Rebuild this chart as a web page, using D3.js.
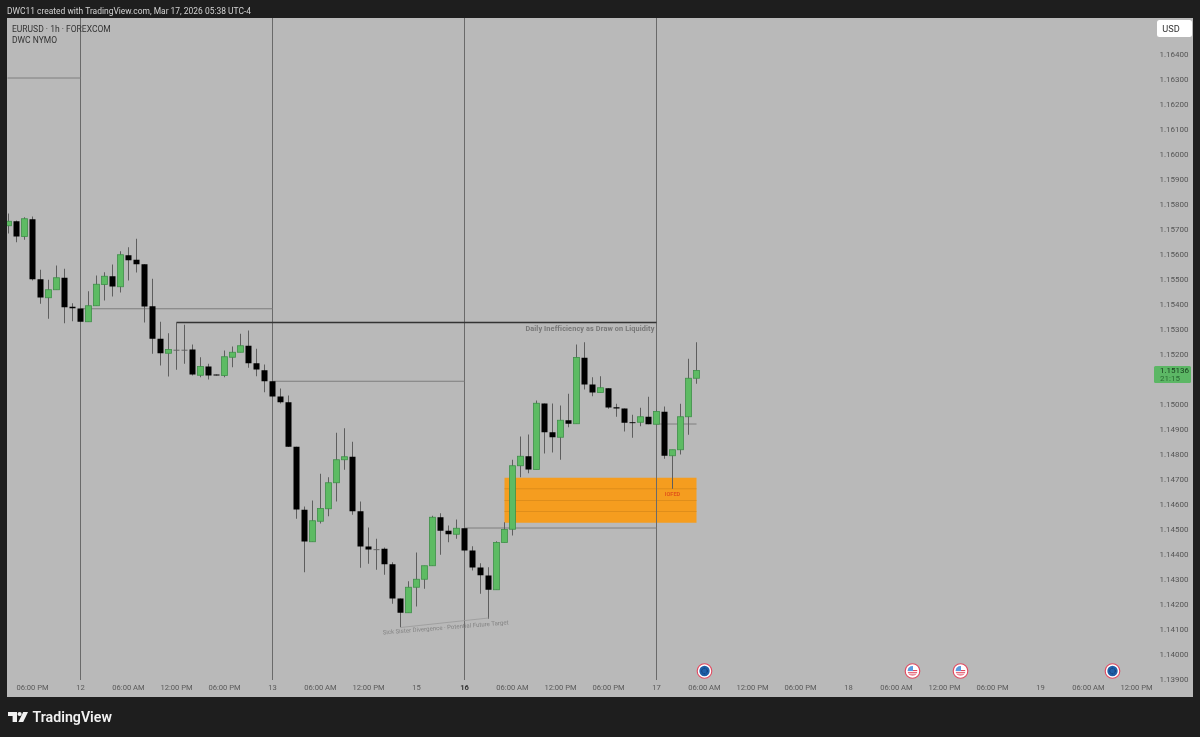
<!DOCTYPE html>
<html><head><meta charset="utf-8">
<script src="https://cdn.jsdelivr.net/npm/d3@7/dist/d3.min.js"></script>
<style>
html,body{margin:0;padding:0;background:#1e1e1e;overflow:hidden}
svg{display:block;filter:blur(0.3px)}
text{font-family:Roboto,"Liberation Sans",sans-serif}
</style></head><body><svg id="c" width="1200" height="737"></svg>
<script>
const opens=[1.15715,1.15733,1.15672,1.15741,1.15501,1.15427,1.15459,1.15507,1.15391,1.15384,1.15331,1.15395,1.15480,1.15513,1.15471,1.15597,1.15579,1.15561,1.15393,1.15263,1.15205,1.15219,1.15219,1.15220,1.15117,1.15152,1.15120,1.15116,1.15189,1.15209,1.15235,1.15165,1.15137,1.15093,1.15032,1.15009,1.14831,1.14579,1.14451,1.14533,1.14583,1.14687,1.14779,1.14791,1.14573,1.14432,1.14421,1.14423,1.14361,1.14224,1.14167,1.14269,1.14301,1.14355,1.14549,1.14495,1.14481,1.14505,1.14416,1.14348,1.14316,1.14259,1.14448,1.14501,1.14755,1.14793,1.14740,1.15004,1.14889,1.14869,1.14937,1.14923,1.15187,1.15080,1.15048,1.15065,1.14989,1.14984,1.14929,1.14929,1.14951,1.14921,1.14971,1.14795,1.14819,1.14951,1.15105];
const highs=[1.15764,1.15736,1.15749,1.15752,1.15539,1.15499,1.15556,1.15543,1.15405,1.15384,1.15453,1.15516,1.15529,1.15560,1.15613,1.15629,1.15663,1.15561,1.15503,1.15331,1.15285,1.15329,1.15319,1.15240,1.15189,1.15163,1.15120,1.15216,1.15232,1.15283,1.15296,1.15223,1.15160,1.15093,1.15064,1.15036,1.14831,1.14592,1.14616,1.14723,1.14709,1.14887,1.14905,1.14851,1.14612,1.14508,1.14463,1.14428,1.14369,1.14224,1.14293,1.14408,1.14355,1.14555,1.14565,1.14516,1.14540,1.14505,1.14433,1.14365,1.14349,1.14453,1.14529,1.14779,1.14872,1.14880,1.15016,1.15004,1.15004,1.14996,1.15043,1.15240,1.15249,1.15109,1.15113,1.15065,1.15003,1.14984,1.14959,1.14987,1.15031,1.14979,1.14992,1.14819,1.15003,1.15183,1.15249];
const lows=[1.15684,1.15649,1.15659,1.15496,1.15403,1.15343,1.15459,1.15325,1.15333,1.15331,1.15331,1.15395,1.15416,1.15432,1.15448,1.15496,1.15528,1.15328,1.15203,1.15156,1.15112,1.15139,1.15163,1.15116,1.15109,1.15100,1.15116,1.15109,1.15149,1.15209,1.15147,1.15113,1.15049,1.15028,1.15004,1.14830,1.14543,1.14329,1.14451,1.14524,1.14553,1.14612,1.14739,1.14559,1.14347,1.14363,1.14339,1.14319,1.14203,1.14109,1.14167,1.14192,1.14263,1.14355,1.14399,1.14449,1.14463,1.14408,1.14336,1.14243,1.14143,1.14259,1.14448,1.14476,1.14709,1.14725,1.14740,1.14804,1.14808,1.14779,1.14909,1.14923,1.15060,1.15033,1.15048,1.14983,1.14951,1.14892,1.14867,1.14913,1.14921,1.14921,1.14783,1.14663,1.14800,1.14879,1.15083];
const closes=[1.15733,1.15672,1.15743,1.15501,1.15428,1.15459,1.15507,1.15389,1.15385,1.15331,1.15395,1.15481,1.15513,1.15472,1.15599,1.15577,1.15561,1.15392,1.15263,1.15205,1.15220,1.15219,1.15219,1.15120,1.15152,1.15116,1.15116,1.15191,1.15209,1.15235,1.15165,1.15140,1.15093,1.15032,1.15009,1.14831,1.14580,1.14452,1.14535,1.14584,1.14687,1.14779,1.14791,1.14573,1.14432,1.14420,1.14421,1.14361,1.14224,1.14167,1.14269,1.14301,1.14355,1.14549,1.14495,1.14481,1.14505,1.14416,1.14348,1.14317,1.14259,1.14448,1.14500,1.14755,1.14793,1.14740,1.15005,1.14889,1.14869,1.14937,1.14923,1.15188,1.15080,1.15048,1.15067,1.14988,1.14984,1.14927,1.14927,1.14951,1.14921,1.14972,1.14795,1.14819,1.14951,1.15105,1.15136];

const priceTicks=[1.164,1.163,1.162,1.161,1.16,1.159,1.158,1.157,1.156,1.155,1.154,1.153,1.152,1.15,1.149,1.148,1.147,1.146,1.145,1.144,1.143,1.142,1.141,1.14,1.139];
const timeTickBars=[3,9,15,21,27,33,39,45,51,57,63,69,75,81,87,93,99,105,111,117,123,129,135,141];
const timeTickLabels=["06:00 PM","12","06:00 AM","12:00 PM","06:00 PM","13","06:00 AM","12:00 PM","15","16","06:00 AM","12:00 PM","06:00 PM","17","06:00 AM","12:00 PM","06:00 PM","18","06:00 AM","12:00 PM","06:00 PM","19","06:00 AM","12:00 PM"];
const sessionBars=[9,33,57,81];
const levelFrom=[-0.125,9,33,57,81];
const levelTo=[9,33,57,81,86];
const levelPrice=[1.16306,1.15383,1.15093,1.14506,1.14922];
const drawLevel=[21,81,1.15328];
const zoneBars=[62,86];
const zonePrices=[1.14707,1.14527];
const zoneInnerPrices=[1.14663,1.14616,1.14572];
const sisterBars=[49,60];
const sisterPrices=[1.14108,1.14146];
const eventBars=[87,113,119,138];
const eventKinds=["EU","US","US","EU"];
const lastPrice=1.15136;

const svg=d3.select("#c");
const x=d3.scaleLinear().domain([0,86]).range([8.5,696.5]);
const y=d3.scaleLinear().domain([1.164,1.139]).range([54.5,679.5]);
const UP="#5dbb63",UPB="#3f8f49",DN="#000000",WICK="#5e5e5e";
const FONT="Roboto,'Liberation Sans',sans-serif";

const defs=svg.append("defs");
defs.append("clipPath").attr("id","pane").append("rect").attr("x",7).attr("y",18).attr("width",1186).attr("height",679);
defs.append("clipPath").attr("id","disc").append("circle").attr("r",5);

svg.append("rect").attr("width",1200).attr("height",737).attr("fill","#1e1e1e");
svg.append("rect").attr("x",7).attr("y",18).attr("width",1186).attr("height",679).attr("fill","#b9b9b9");

const pane=svg.append("g").attr("clip-path","url(#pane)");

// zone
pane.append("rect").attr("x",x(zoneBars[0])).attr("width",x(zoneBars[1])-x(zoneBars[0]))
  .attr("y",y(zonePrices[0])).attr("height",y(zonePrices[1])-y(zonePrices[0])).attr("fill","#f59d1f");
pane.selectAll(".zl").data(zoneInnerPrices).join("line")
  .attr("x1",x(zoneBars[0])).attr("x2",x(zoneBars[1]))
  .attr("y1",d=>y(d)).attr("y2",d=>y(d)).attr("stroke","#d98a1a").attr("stroke-width",0.8);

// session verticals
pane.selectAll(".sv").data(sessionBars).join("line")
  .attr("x1",d=>x(d)).attr("x2",d=>x(d)).attr("y1",18).attr("y2",680)
  .attr("stroke","#6a6a6a").attr("stroke-width",1);

// levels
pane.selectAll(".lv").data(levelPrice).join("line")
  .attr("x1",(d,i)=>x(levelFrom[i])).attr("x2",(d,i)=>x(levelTo[i]))
  .attr("y1",d=>y(d)).attr("y2",d=>y(d)).attr("stroke","#7e7e7e").attr("stroke-width",1);
pane.append("line").attr("x1",x(drawLevel[0])).attr("x2",x(drawLevel[1]))
  .attr("y1",y(drawLevel[2])).attr("y2",y(drawLevel[2])).attr("stroke","#333").attr("stroke-width",1.3);

// candles
const candles=d3.range(opens.length).map(i=>({i,o:opens[i],h:highs[i],l:lows[i],c:closes[i]}));
pane.selectAll(".w").data(candles).join("line")
  .attr("x1",d=>x(d.i)).attr("x2",d=>x(d.i)).attr("y1",d=>y(d.h)).attr("y2",d=>y(d.l))
  .attr("stroke",WICK).attr("stroke-width",1);
pane.selectAll(".b").data(candles).join("rect")
  .attr("x",d=>x(d.i)-3).attr("width",6)
  .attr("y",d=>y(Math.max(d.o,d.c)))
  .attr("height",d=>Math.max(0.9,y(Math.min(d.o,d.c))-y(Math.max(d.o,d.c))))
  .attr("fill",d=>d.c>d.o?UP:(d.c===d.o?"#5c5c5c":DN))
  .attr("stroke",d=>d.c>d.o?UPB:"none").attr("stroke-width",0.8);

// sister line + annotations
pane.append("line").attr("x1",x(sisterBars[0])).attr("x2",x(sisterBars[1]))
  .attr("y1",y(sisterPrices[0])).attr("y2",y(sisterPrices[1])).attr("stroke","#999").attr("stroke-width",0.8);
svg.append("text").attr("transform",`translate(${x(46.8)},${y(1.1408)}) rotate(-4.6)`)
  .attr("font-size",6).attr("fill","#828282").attr("letter-spacing",0.04)
  .text("Sick Sister Divergence · Potential Future Target");
svg.append("text").attr("x",x(81)-2).attr("y",y(1.15328)+8.5).attr("text-anchor","end")
  .attr("font-size",7.3).attr("font-weight",700).attr("fill","#777").attr("letter-spacing",0.12)
  .text("Daily Inefficiency as Draw on Liquidity");
svg.append("text").attr("x",x(83)).attr("y",495.5).attr("text-anchor","middle")
  .attr("font-size",5.6).attr("font-weight",700).attr("fill","#e2561a").text("IOFED");

// y axis
const yAxis=d3.axisRight(y).tickValues(priceTicks).tickSize(0).tickPadding(0).tickFormat(d3.format(".5f"));
const gy=svg.append("g").attr("transform","translate(1159.5,-1)").call(yAxis);
gy.select(".domain").remove();
gy.selectAll("text").attr("font-size",8).attr("fill","#555").attr("font-family",FONT);

// x axis
const xAxis=d3.axisBottom(x).tickValues(timeTickBars).tickSize(0).tickPadding(0)
  .tickFormat((d,i)=>timeTickLabels[i]);
const gx=svg.append("g").attr("transform","translate(-0.5,684.5)").call(xAxis);
gx.select(".domain").remove();
gx.selectAll("text").attr("font-size",7.6).attr("font-family",FONT)
  .attr("font-weight",(d,i)=>timeTickLabels[i]==="16"?700:400).attr("fill",(d,i)=>timeTickLabels[i]==="16"?"#333":"#5a5a5a");

// last price tag
const ly=y(lastPrice);
svg.append("rect").attr("x",1154).attr("y",ly-4.5).attr("width",37).attr("height",17).attr("rx",1.5).attr("fill","#5cb765");
svg.append("text").attr("x",1160).attr("y",ly+2.5).attr("font-size",8).attr("fill","#173d1d").text(d3.format(".5f")(lastPrice));
svg.append("text").attr("x",1160).attr("y",ly+10.5).attr("font-size",8).attr("fill","#2a6a33").text("21:15");

// USD button
svg.append("rect").attr("x",1157).attr("y",20).attr("width",35).attr("height",17).attr("rx",2.5).attr("fill","#fff");
svg.append("text").attr("x",1171).attr("y",32).attr("text-anchor","middle").attr("font-size",9.2).attr("fill","#333").text("USD");

// headers
svg.append("text").attr("x",7).attr("y",13.5).attr("font-size",8.45).attr("fill","#d2d2d2").text("DWC11 created with TradingView.com, Mar 17, 2026 05:38 UTC-4");
svg.append("text").attr("x",12).attr("y",31.5).attr("font-size",8.5).attr("fill","#333").text("EURUSD · 1h · FOREXCOM");
svg.append("text").attr("x",12).attr("y",43).attr("font-size",8.5).attr("fill","#333").text("DWC NYMO");

// event markers
const ev=svg.selectAll(".ev").data(eventBars).join("g").attr("transform",d=>`translate(${x(d)},671)`);
ev.append("circle").attr("r",7.3).attr("fill","#fff").attr("stroke","#e0485f").attr("stroke-width",1.1);
ev.each(function(d,i){
  const g=d3.select(this);
  if(eventKinds[i]==="EU"){
    g.append("circle").attr("r",5.2).attr("fill","#1f5fa8");
    g.append("circle").attr("r",2.8).attr("fill","none").attr("stroke","#0e2f5e").attr("stroke-width",0.9).attr("stroke-dasharray","1 0.8");
  } else {
    const f=g.append("g").attr("clip-path","url(#disc)");
    f.append("rect").attr("x",-5).attr("y",-5).attr("width",10).attr("height",10).attr("fill","#fff");
    [-1,1.2,3.4].forEach(v=>f.append("rect").attr("x",-5).attr("y",v).attr("width",10).attr("height",1.1).attr("fill","#e0485f"));
    f.append("rect").attr("x",-5).attr("y",-5).attr("width",5.5).attr("height",5).attr("fill","#5a9be0");
  }
});

// logo
const logo=svg.append("g").attr("fill","#f2f2f2");
logo.append("path").attr("d","M8 712H17V722H12.6V716H8Z");
logo.append("circle").attr("cx",19.6).attr("cy",714).attr("r",2.1);
logo.append("path").attr("d","M23.2 712H28L23.2 722H18.4Z");
svg.append("text").attr("x",32.5).attr("y",722).attr("font-size",14.2).attr("font-weight",600).attr("fill","#f2f2f2").attr("font-family","Inter,sans-serif").text("TradingView");
</script></body></html>
